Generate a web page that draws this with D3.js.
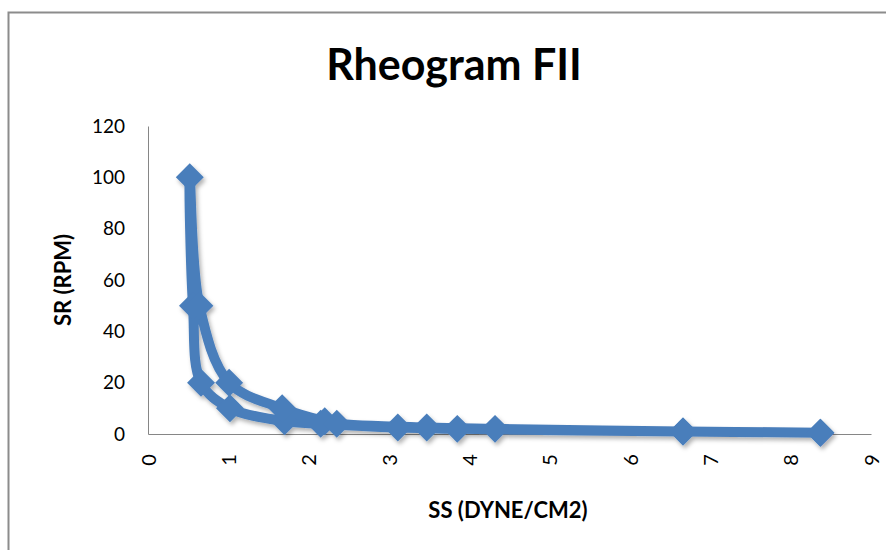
<!DOCTYPE html>
<html>
<head>
<meta charset="utf-8">
<script src="https://cdn.jsdelivr.net/npm/d3@7"></script>
<style>
  body { margin: 0; background: #fff; }
  svg { display: block; font-family: Lato, "Open Sans", sans-serif; }
</style>
</head>
<body>
<div id="chart"></div>
<script>
// rheogram loop: rising speed then falling speed
var rpm = [0.5, 1, 2, 2.5, 4, 5, 10, 20, 50, 100, 50, 20, 10, 5, 4, 2.5, 2, 1, 0.5];
var shearStress = [8.37, 6.66, 3.85, 3.11, 2.15, 1.70, 1.02, 0.66, 0.56, 0.52, 0.64, 1.01, 1.67, 2.2, 2.35, 3.47, 4.32, 6.66, 8.37];
var xTicks = [0, 1, 2, 3, 4, 5, 6, 7, 8, 9];
var yTicks = [0, 20, 40, 60, 80, 100, 120];

var w = 886, h = 550;
var blue = '#4a7ebb';

var svg = d3.select('#chart')
    .append('svg')
        .attr('width', w)
        .attr('height', h);

var defs = svg.append('defs');
var shadow = defs.append('filter')
    .attr('id', 'shadow')
    .attr('x', '-20%').attr('y', '-20%')
    .attr('width', '140%').attr('height', '140%');
shadow.append('feDropShadow')
    .attr('dx', 2).attr('dy', 3)
    .attr('stdDeviation', 2)
    .attr('flood-color', '#000')
    .attr('flood-opacity', 0.3);

// chart frame (runs off the right and bottom edges)
svg.append('rect')
    .attr('x', 8.5).attr('y', 12.5)
    .attr('width', 900).attr('height', 600)
    .attr('fill', 'none')
    .attr('stroke', '#8c8c8c')
    .attr('stroke-width', 2);

var x = d3.scaleLinear().domain([0, 9]).range([148, 871]);
var y = d3.scaleLinear().domain([0, 120]).range([434, 126]);

// axes
var xAxis = svg.append('g')
    .attr('transform', 'translate(0,' + y(0) + ')')
    .call(d3.axisBottom(x).tickValues(xTicks).tickSize(0).tickFormat(d3.format('d')));
xAxis.select('.domain').attr('stroke', '#868686');
xAxis.selectAll('text')
    .attr('transform', 'rotate(-90)')
    .attr('x', -26).attr('y', 0)
    .attr('dy', '0.35em')
    .attr('text-anchor', 'middle')
    .style('font-size', '20px')
    .style('font-family', 'Lato, sans-serif')
    .attr('fill', '#000');

var yAxis = svg.append('g')
    .attr('transform', 'translate(' + x(0) + ',0)')
    .call(d3.axisLeft(y).tickValues(yTicks).tickSize(0));
yAxis.select('.domain').attr('stroke', '#868686');
yAxis.selectAll('text')
    .attr('x', -23)
    .style('font-size', '19px')
    .style('font-family', 'Lato, sans-serif')
    .attr('fill', '#000');

// titles
svg.append('text')
    .text('Rheogram FII')
    .attr('x', 454).attr('y', 80)
    .attr('text-anchor', 'middle')
    .style('font-size', '43px')
    .style('font-weight', 'bold');

svg.append('text')
    .text('SS (DYNE/CM2)')
    .attr('x', 508).attr('y', 518)
    .attr('text-anchor', 'middle')
    .style('font-size', '22px')
    .style('font-weight', 'bold');

svg.append('text')
    .text('SR (RPM)')
    .attr('transform', 'translate(71,280) rotate(-90)')
    .attr('text-anchor', 'middle')
    .style('font-size', '22px')
    .style('font-weight', 'bold');

// smoothed line and diamond markers
var pts = shearStress.map(function (d, i) { return [d, rpm[i]]; });

var plot = svg.append('g').attr('filter', 'url(#shadow)');

plot.append('path')
    .datum(pts)
    .attr('fill', 'none')
    .attr('stroke', blue)
    .attr('stroke-width', 10)
    .attr('stroke-linejoin', 'round')
    .attr('d', d3.line()
        .x(function (d) { return x(d[0]); })
        .y(function (d) { return y(d[1]); })
        .curve(d3.curveCatmullRom.alpha(0.5)));

plot.selectAll('path.mark')
    .data(pts)
    .enter()
    .append('path')
        .attr('class', 'mark')
        .attr('d', d3.symbol().type(d3.symbolSquare).size(390))
        .attr('transform', function (d) {
            return 'translate(' + x(d[0]) + ',' + y(d[1]) + ') rotate(45)';
        })
        .attr('fill', blue);
</script>
</body>
</html>
